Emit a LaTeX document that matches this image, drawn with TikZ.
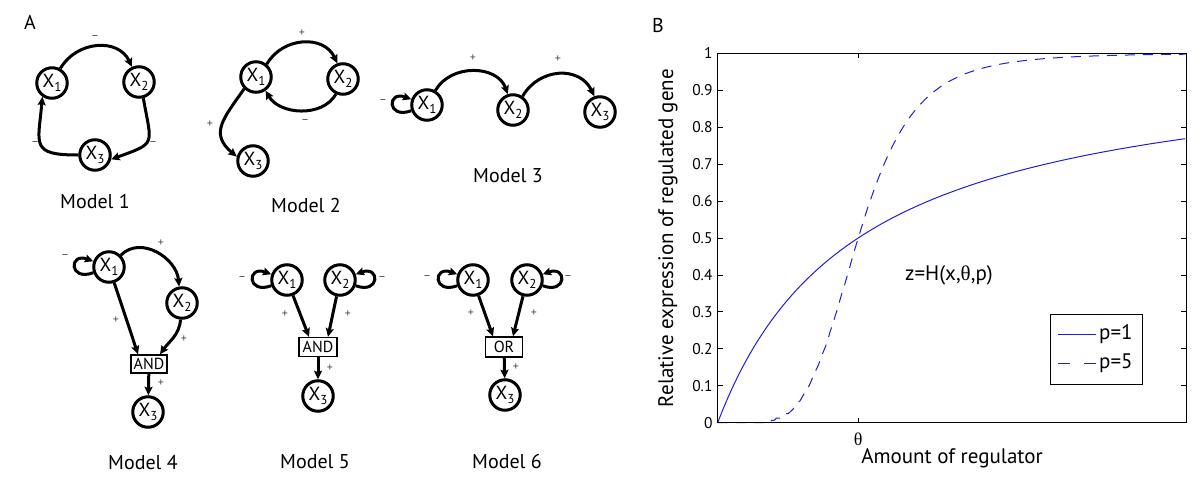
\documentclass[tikz,border=0pt]{standalone}
\usepackage{fontspec}
\setmainfont{PT Sans}
\newfontfamily\thfont{Liberation Serif}
\usetikzlibrary{arrows.meta,calc}
\newcommand\xn[1]{X\raisebox{-3.5pt}{\fontsize{13}{13}\selectfont #1}}
\newcommand\loopleft[1]{\draw[arr] (#1.200) .. controls +(200:26) and +(160:26) .. (#1.160);}
\newcommand\loopright[1]{\draw[arr] (#1.-20) .. controls +(-20:26) and +(20:26) .. (#1.20);}
\begin{document}
\begin{tikzpicture}[x=1pt,y=1pt,
  gn/.style={circle,draw,line width=3pt,minimum size=30.5pt,inner sep=0pt,font=\fontsize{19}{19}\selectfont},
  arr/.style={line width=3pt,-{Stealth[length=8.5pt,width=8pt,inset=1.5pt]}},
  gate/.style={draw,line width=1.4pt,minimum width=36pt,minimum height=18pt,inner sep=0pt,font=\fontsize{16}{16}\selectfont},
  sg/.style={font=\fontsize{12}{12}\selectfont,text=black!70},
  mlab/.style={font=\fontsize{20}{20}\selectfont},
  panel/.style={font=\fontsize{20}{20}\selectfont},
  tick/.style={font=\fontsize{15.5}{15.5}\selectfont,anchor=east,inner sep=0pt},
  alab/.style={font=\fontsize{21}{21}\selectfont},
  curve/.style={color={rgb,255:red,30;green,30;blue,225},line width=1pt},
]
\useasboundingbox (0,0) rectangle (1200,-477);
\node[panel] (pA) at (30,-22) {A};
\node[panel] (pB) at (658,-25) {B};

% ---------- Model 1
\node[gn] (a1) at (52,-83) {\xn1};
\node[gn] (a2) at (139,-82) {\xn2};
\node[gn] (a3) at (95,-155) {\xn3};
\draw[arr] (a1.60) to[out=60,in=115,looseness=1.15] (a2.115);
\draw[arr] (a2.-75) to[out=-80,in=20,looseness=1.8] (a3.-15);
\draw[arr] (a3.180) to[out=180,in=-95,looseness=1.8] (a1.-125);
\node[sg] (s11) at (95,-38) {–};
\node[sg] (s12) at (153,-144) {–};
\node[sg] (s13) at (35,-144) {–};
\node[mlab] (m1) at (95,-201) {Model 1};

% ---------- Model 2
\node[gn] (b1) at (256,-77) {\xn1};
\node[gn] (b2) at (343,-79) {\xn2};
\node[gn] (b3) at (253,-161) {\xn3};
\draw[arr] (b1.50) to[out=60,in=115,looseness=1.15] (b2.110);
\draw[arr] (b2.-115) to[out=-120,in=-60,looseness=1] (b1.-55);
\draw[arr] (b1.-135) to[out=-125,in=140,looseness=1.35] (b3.165);
\node[sg] (s21) at (302,-33) {+};
\node[sg] (s22) at (305,-122) {–};
\node[sg] (s23) at (210,-124) {+};
\node[mlab] (m2) at (306,-205) {Model 2};

% ---------- Model 3
\node[gn] (c1) at (427,-105) {\xn1};
\node[gn] (c2) at (513,-110) {\xn2};
\node[gn] (c3) at (600,-112) {\xn3};
\loopleft{c1}
\draw[arr] (c1.60) to[out=60,in=110,looseness=1.1] (c2.108);
\draw[arr] (c2.55) to[out=60,in=115,looseness=1.2] (c3.110);
\node[sg] (s31) at (383,-102) {–};
\node[sg] (s32) at (473,-58) {+};
\node[sg] (s33) at (558,-59) {+};
\node[mlab] (m3) at (508,-175.5) {Model 3};

% ---------- Model 4
\node[gn] (d1) at (109,-267) {\xn1};
\node[gn] (d2) at (182,-303) {\xn2};
\node[gate] (dg) at (149,-364) {AND};
\node[gn] (d3) at (148,-412) {\xn3};
\loopleft{d1}
\draw[arr] (d1.45) to[out=45,in=95,looseness=1.1] (d2.100);
\draw[arr] (d1) -- ($(dg.north)+(-11,0)$);
\draw[arr] (d2.-95) to[out=-95,in=55,looseness=1] ($(dg.north)+(11,0)$);
\draw[arr] (dg) -- (d3);
\node[sg] (s41) at (65,-257) {–};
\node[sg] (s42) at (161,-243) {+};
\node[sg] (s43) at (116,-320) {+};
\node[sg] (s44) at (184,-339) {+};
\node[sg] (s45) at (161,-383) {+};
\node[mlab] (m4) at (143,-463) {Model 4};

% ---------- Model 5
\node[gn] (e1) at (287,-280) {\xn1};
\node[gn] (e2) at (340,-280) {\xn2};
\node[gate,minimum width=38pt,minimum height=19pt] (eg) at (318,-347) {AND};
\node[gn] (e3) at (318,-396) {\xn3};
\loopleft{e1}
\loopright{e2}
\draw[arr] (e1) -- ($(eg.north)+(-9,0)$);
\draw[arr] (e2) -- ($(eg.north)+(10,0)$);
\draw[arr] (eg) -- (e3);
\node[sg] (s51) at (242,-279) {–};
\node[sg] (s52) at (382,-279) {–};
\node[sg] (s53) at (285,-314) {+};
\node[sg] (s54) at (348,-314) {+};
\node[sg] (s55) at (330,-368) {+};
\node[mlab] (m5) at (315,-461.5) {Model 5};

% ---------- Model 6
\node[gn] (f1) at (473,-280) {\xn1};
\node[gn] (f2) at (527,-280) {\xn2};
\node[gate,minimum width=37pt,minimum height=20pt] (fg) at (504,-347) {OR};
\node[gn] (f3) at (505,-395) {\xn3};
\loopleft{f1}
\loopright{f2}
\draw[arr] (f1) -- ($(fg.north)+(-11,0)$);
\draw[arr] (f2) -- ($(fg.north)+(9,0)$);
\draw[arr] (fg) -- (f3);
\node[sg] (s61) at (427,-278) {–};
\node[sg] (s62) at (568,-278) {–};
\node[sg] (s63) at (471,-313) {+};
\node[sg] (s64) at (534,-313) {+};
\node[sg] (s65) at (516,-367) {+};
\node[mlab] (m6) at (507,-461.5) {Model 6};

% ---------- Plot B
\begin{scope}[shift={(717.7,-422.7)},x=468.3pt,y=369.4pt]
  \draw[curve] plot[domain=0:1,samples=150,smooth] (\x,{\x/(\x+0.3)});
  \draw[curve,dash pattern=on 10pt off 8pt] plot[domain=0:1,samples=200,smooth] (\x,{\x^5/(\x^5+0.00243)});
  \draw[line width=1pt] (0,0) rectangle (1,1);
  \foreach \v/\t in {0/0,0.1/0.1,0.2/0.2,0.3/0.3,0.4/0.4,0.5/0.5,0.6/0.6,0.7/0.7,0.8/0.8,0.9/0.9,1/1}{
    \draw[line width=0.8pt] (0,\v) -- ++(5pt,0);
    \draw[line width=0.8pt] (1,\v) -- ++(-5pt,0);
    \node[tick] at ($(0,\v)+(-5pt,0)$) {\t};
  }
  \draw[line width=0.8pt] (0.3,0) -- ++(0,5pt);
  \draw[line width=0.8pt] (0.3,1) -- ++(0,-5pt);
  \node[font=\thfont\fontsize{18}{18}\selectfont] (th) at ($(0.3,0)+(0,-16.5pt)$) {θ};
\end{scope}
\node[alab,rotate=90] (ylab) at (668,-238) {Relative expression of regulated gene};
\node[alab] (xlab) at (952,-458) {Amount of regulator};
\node[alab,anchor=west,inner sep=0pt] (eq) at (905,-275) {z=H(x,{\thfont θ},p)};
% legend
\draw[line width=0.8pt] (1050,-314) rectangle (1142,-384);
\draw[curve] (1058,-334) -- (1096,-334);
\draw[curve] (1058,-363) -- (1069.5,-363) (1084,-363) -- (1096,-363);
\node[alab,anchor=west,inner sep=0pt] (l1) at (1099,-334) {p=1};
\node[alab,anchor=west,inner sep=0pt] (l2) at (1099,-363) {p=5};
\end{tikzpicture}
\end{document}
